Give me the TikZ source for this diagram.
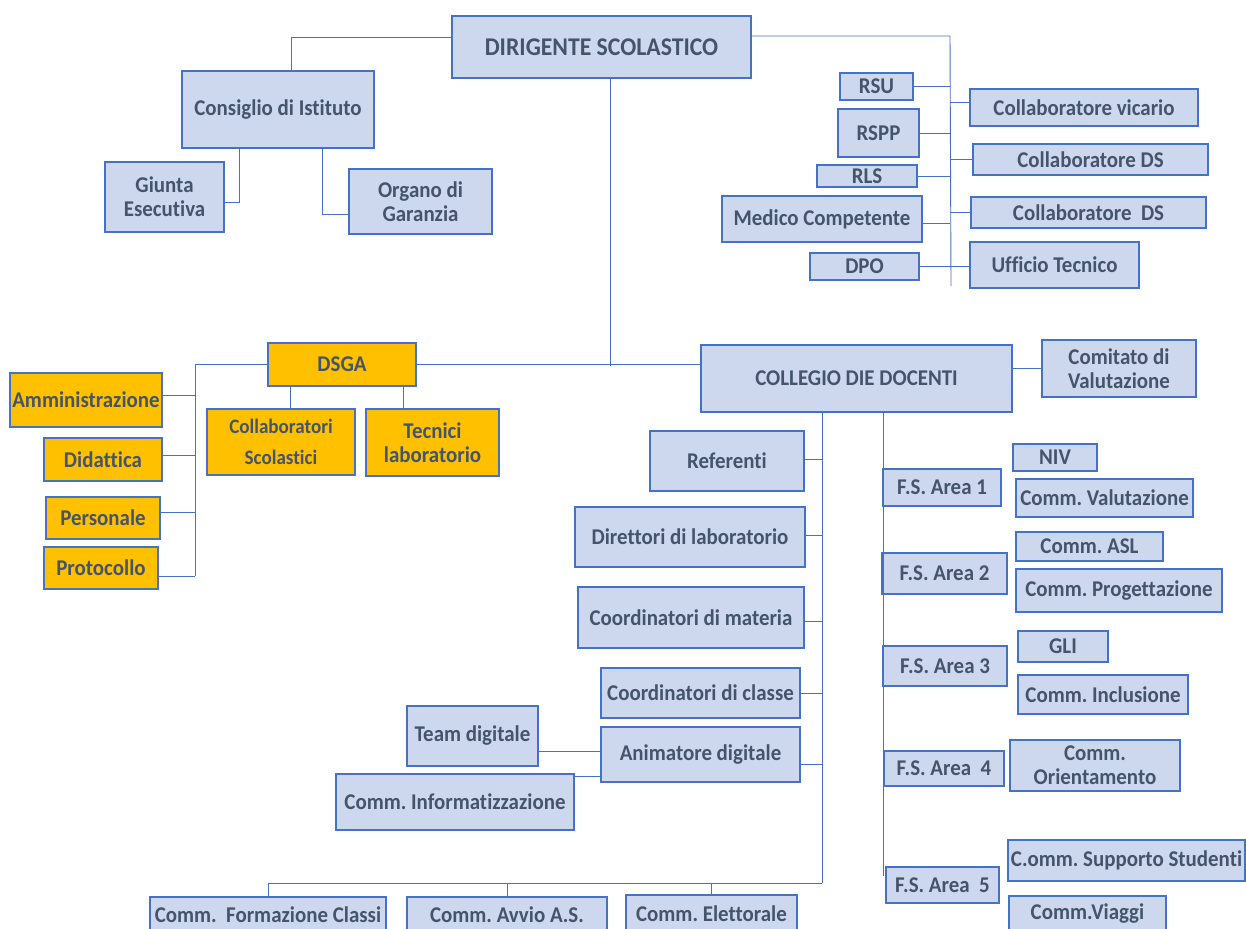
\documentclass[tikz,border=0pt]{standalone}
\usepackage{fontspec}
\setmainfont{Carlito}[FakeStretch=0.93, RawFeature=-liga]
\frenchspacing
\definecolor{boxfill}{RGB}{205,216,238}
\definecolor{boxline}{RGB}{68,114,196}
\definecolor{txt}{RGB}{68,84,106}
\definecolor{gold}{RGB}{255,192,0}
\tikzstyle{box} = [draw=boxline, line width=1.6pt, fill=boxfill, text=txt, font=\bfseries\fontsize{22.5}{24}\selectfont, align=center, inner sep=1pt]
\tikzstyle{obox} = [box, fill=gold]
\tikzstyle{link} = [draw=boxline, line width=0.9pt]

\begin{document}
\begin{tikzpicture}[x=1pt, y=-1pt]
        \useasboundingbox (0,0) rectangle (1246,928);
        \clip (0,0) rectangle (1246,928);

        % top
        \node[box, minimum width=299, minimum height=62, font=\bfseries\fontsize{25.5}{28}\selectfont] (ds) at (601.5,47) {DIRIGENTE SCOLASTICO};
        \node[box, minimum width=192, minimum height=77] (ci) at (278,109.5) {Consiglio di Istituto};
        \node[box, minimum width=119, minimum height=70] (ge) at (164.5,197) {Giunta\\Esecutiva};
        \node[box, minimum width=143, minimum height=65] (og) at (420.5,201.5) {Organo di\\Garanzia};

        % staff of the DS
        \node[box, minimum width=73, minimum height=27] (rsu) at (876.5,86.5) {RSU};
        \node[box, minimum width=81, minimum height=48] (rspp) at (878.5,133) {RSPP};
        \node[box, minimum width=100, minimum height=22] (rls) at (867,176) {RLS};
        \node[box, minimum width=200, minimum height=46] (mc) at (822,219) {Medico Competente};
        \node[box, minimum width=109, minimum height=27] (dpo) at (864.5,266.5) {DPO};
        \node[box, minimum width=228, minimum height=37] (cv) at (1084,107.5) {Collaboratore vicario};
        \node[box, minimum width=235, minimum height=31] (cds) at (1090.5,159.5) {Collaboratore DS};
        \node[box, minimum width=235, minimum height=31] (cdt) at (1088.5,212.5) {Collaboratore\ \ DS};
        \node[box, minimum width=169, minimum height=46] (ut) at (1054.5,265) {Ufficio Tecnico};

        % DSGA
        \node[obox, minimum width=148, minimum height=43] (dsga) at (342,364.5) {DSGA};
        \node[obox, minimum width=152, minimum height=54] (amm) at (86,400) {Amministrazione};
        \node[obox, minimum width=118, minimum height=43] (did) at (103,459.5) {Didattica};
        \node[obox, minimum width=114, minimum height=42] (pers) at (103,518) {Personale};
        \node[obox, minimum width=114, minimum height=42] (prot) at (101,568) {Protocollo};
        \node[obox, minimum width=148, minimum height=66, font=\bfseries\fontsize{20.5}{31}\selectfont] (cs) at (281,442) {Collaboratori\\Scolastici};
        \node[obox, minimum width=133, minimum height=67] (tl) at (432.5,442.5) {Tecnici\\laboratorio};

        % collegio
        \node[box, minimum width=311, minimum height=67] (cdd) at (856.5,378.5) {COLLEGIO DIE DOCENTI};
        \node[box, minimum width=154, minimum height=57] (cdv) at (1119,368.5) {Comitato di\\Valutazione};
        \node[box, minimum width=154, minimum height=60] (ref) at (727,461) {Referenti};
        \node[box, minimum width=230, minimum height=60] (dir) at (690,537) {Direttori di laboratorio};
        \node[box, minimum width=226, minimum height=61] (cmat) at (691,617.5) {Coordinatori di materia};
        \node[box, minimum width=199, minimum height=50] (ccl) at (700.5,693) {Coordinatori di classe};
        \node[box, minimum width=199, minimum height=55] (ad) at (700.5,754.5) {Animatore digitale};
        \node[box, minimum width=131, minimum height=60] (td) at (472.5,736) {Team digitale};
        \node[box, minimum width=238, minimum height=56] (cinf) at (455,802) {Comm. Informatizzazione};

        % funzioni strumentali
        \node[box, minimum width=118, minimum height=37] (fsa) at (942,487.5) {F.S. Area 1};
        \node[box, minimum width=84, minimum height=27] (niv) at (1055,457.5) {NIV};
        \node[box, minimum width=177, minimum height=38] (cval) at (1104.5,498) {Comm. Valutazione};
        \node[box, minimum width=147, minimum height=29] (asl) at (1089.5,546.5) {Comm. ASL};
        \node[box, minimum width=125, minimum height=41] (fsb) at (944.5,573.5) {F.S. Area 2};
        \node[box, minimum width=206, minimum height=43] (cprog) at (1119,590.5) {Comm. Progettazione};
        \node[box, minimum width=124, minimum height=40] (fsc) at (945,666) {F.S. Area 3};
        \node[box, minimum width=90, minimum height=31] (gli) at (1063,646.5) {GLI};
        \node[box, minimum width=170, minimum height=39] (cinc) at (1103,694.5) {Comm. Inclusione};
        \node[box, minimum width=120, minimum height=35] (fsd) at (944,768.5) {F.S. Area\ \ 4};
        \node[box, minimum width=170, minimum height=51] (cor) at (1095,765.5) {Comm.\\Orientamento};
        \node[box, minimum width=113, minimum height=36] (fse) at (942.5,885) {F.S. Area\ \ 5};
        \node[box, minimum width=237, minimum height=41] (css) at (1126.5,860.5) {C.omm. Supporto Studenti};
        \node[box, minimum width=157, minimum height=36] (cvia) at (1087.5,914) {Comm.Viaggi};

        % bottom row
        \node[box, minimum width=236, minimum height=35] (cfc) at (268,914.5) {Comm.\ \ Formazione Classi};
        \node[box, minimum width=200, minimum height=35] (cav) at (507,914.5) {Comm. Avvio A.S.};
        \node[box, minimum width=171, minimum height=37] (cel) at (711.5,913.5) {Comm. Elettorale};

        \coordinate (rt) at (950,36);
        \coordinate (rb) at (951,286);
        \coordinate (lb) at (195,576);
        \coordinate (mj) at (610,366);
        \coordinate (lbus) at (822,883);
        \coordinate (rbus) at (883,876);

        % Edges
        \draw[link] ([yshift=10]ds.west) -| ([xshift=13]ci.north);
        \draw[link] ([xshift=-39]ci.south) |- ([yshift=-5]ge.east);
        \draw[link] ([xshift=44]ci.south) |- ([yshift=-12.5]og.west);
        \draw[link] ([yshift=11]ds.east) -- (rt) -- (rb);
        \draw[link] (rsu.east) -- (rsu.east -| rt);
        \draw[link] (rspp.east) -- (rspp.east -| rt);
        \draw[link] (rls.east) -- (rls.east -| rt);
        \draw[link] ([yshift=-4]mc.east) -- ([yshift=-4]mc.east -| rt);
        \draw[link] (dpo.east) -- (dpo.east -| ut.west);
        \draw[link] ([yshift=5]cv.west) -- ([yshift=5]cv.west -| rt);
        \draw[link] (cds.west) -- (cds.west -| rt);
        \draw[link] (cdt.west) -- (cdt.west -| rt);

        \draw[link] ([xshift=8.5]ds.south) -- (mj);
        \draw[link] (dsga.east) -- (dsga.east -| cdd.west);
        \draw[link] (dsga.west) -| (lb);
        \draw[link] ([yshift=5]amm.east) -- ([yshift=5]amm.east -| lb);
        \draw[link] ([yshift=4]did.east) -- ([yshift=4]did.east -| lb);
        \draw[link] ([yshift=6]pers.east) -- ([yshift=6]pers.east -| lb);
        \draw[link] ([yshift=-8]prot.east) -- ([yshift=-8]prot.east -| lb);
        \draw[link] ([xshift=-52]dsga.south) -- ([xshift=9]cs.north);
        \draw[link] ([xshift=61]dsga.south) -- ([xshift=-29.5]tl.north);

        \draw[link] (cdv.west -| cdd.east) -- (cdv.west);
        \draw[link] (cdd.south -| lbus) -- (lbus);
        \draw[link] (cdd.south -| rbus) -- (rbus);
        \draw[link] ([yshift=2]ref.east) -- ([yshift=2]ref.east -| lbus);
        \draw[link] ([yshift=2]dir.east) -- ([yshift=2]dir.east -| lbus);
        \draw[link] ([yshift=-3.5]cmat.east) -- ([yshift=-3.5]cmat.east -| lbus);
        \draw[link] (ccl.east) -- (ccl.east -| lbus);
        \draw[link] ([yshift=-9.5]ad.east) -- ([yshift=-9.5]ad.east -| lbus);
        \draw[link] ([yshift=-15]td.east) -- ([yshift=-15]td.east -| ad.west);
        \draw[link] ([yshift=-3]cinf.north east) -- ([yshift=-3]cinf.north east -| ad.west);
        \draw[link] (lbus) -- (cfc.north |- lbus) -- (cfc.north);
        \draw[link] (cav.north |- lbus) -- (cav.north);
        \draw[link] (cel.north |- lbus) -- (cel.north);
      \end{tikzpicture}
\end{document}
